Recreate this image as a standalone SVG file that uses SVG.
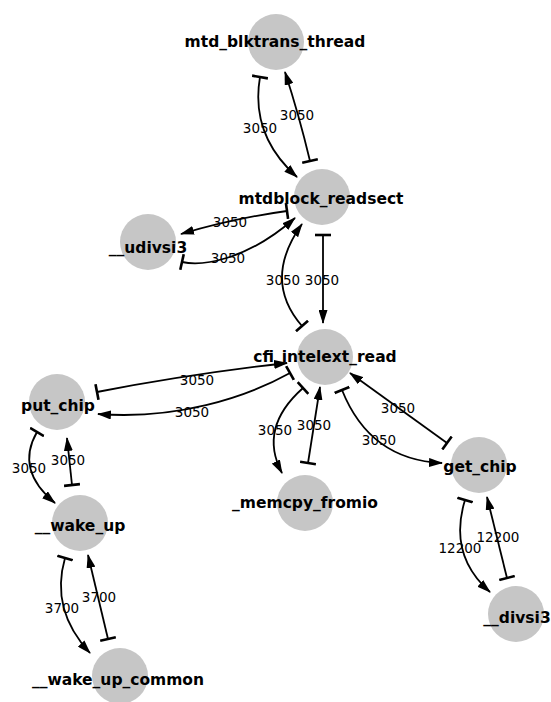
<svg xmlns="http://www.w3.org/2000/svg" width="551" height="702" viewBox="0 0 551 702">
<style>
.node circle{fill:#c6c6c6;}
.node text{font-family:"DejaVu Sans",Verdana,sans-serif;font-weight:bold;font-size:15.5px;fill:#000;text-anchor:middle;}
.edges path{fill:none;stroke:#000;stroke-width:1.8;marker-start:url(#tee);marker-end:url(#arrow);}
.elabel text{font-family:"DejaVu Sans",Verdana,sans-serif;font-size:13.5px;fill:#000;text-anchor:middle;}
</style>
<defs>
<marker id="arrow" viewBox="0 0 14 9" refX="13" refY="4.5" markerWidth="14" markerHeight="9" markerUnits="userSpaceOnUse" orient="auto"><path d="M0,0 L14,4.5 L0,9 z" fill="#000"/></marker>
<marker id="tee" viewBox="0 0 4 16" refX="2" refY="8" markerWidth="4" markerHeight="16" markerUnits="userSpaceOnUse" orient="auto"><line x1="2" y1="0" x2="2" y2="16" stroke="#000" stroke-width="2.6"/></marker>
</defs>
<rect width="551" height="702" fill="#fff"/>
<g id="nodes">
<g id="n_mtd_blktrans_thread" class="node"><circle cx="276" cy="42" r="28"/></g>
<g id="n_mtdblock_readsect" class="node"><circle cx="322" cy="197" r="28"/></g>
<g id="n_udivsi3" class="node"><circle cx="148" cy="242" r="28"/></g>
<g id="n_cfi_intelext_read" class="node"><circle cx="325" cy="357" r="28"/></g>
<g id="n_put_chip" class="node"><circle cx="57" cy="402" r="28"/></g>
<g id="n_memcpy_fromio" class="node"><circle cx="305" cy="503" r="28"/></g>
<g id="n_get_chip" class="node"><circle cx="479" cy="465" r="28"/></g>
<g id="n_wake_up" class="node"><circle cx="80" cy="523" r="28"/></g>
<g id="n_wake_up_common" class="node"><circle cx="120" cy="676" r="28"/></g>
<g id="n_divsi3" class="node"><circle cx="516" cy="614" r="28"/></g>
</g>
<g id="connectors" class="edges">
<path d="M260,77 Q250,135 297,177"/>
<path d="M310,161 Q299,115 285,72"/>
<path d="M287,211 Q235,218 181,234"/>
<path d="M182,262 C200,266 245,262 295,218"/>
<path d="M302,326 Q262,280 302,224"/>
<path d="M323,235 L323,323"/>
<path d="M97,392 Q190,374 287,363"/>
<path d="M290,373 C245,398 175,420 98,414"/>
<path d="M37,432 Q15,470 55,503"/>
<path d="M72,485 L67,438"/>
<path d="M65,558 Q50,610 90,653"/>
<path d="M108,639 L88,555"/>
<path d="M303,388 Q258,428 282,473"/>
<path d="M308,463 L320,387"/>
<path d="M447,443 L350,373"/>
<path d="M342,390 Q370,460 442,463"/>
<path d="M465,500 Q448,555 490,592"/>
<path d="M507,578 L487,497"/>
</g>
<g id="edge-labels" class="elabel">
<text x="260" y="133">3050</text>
<text x="297" y="120">3050</text>
<text x="230" y="227">3050</text>
<text x="228" y="263">3050</text>
<text x="283" y="285">3050</text>
<text x="322" y="285">3050</text>
<text x="197" y="385">3050</text>
<text x="192" y="417">3050</text>
<text x="29" y="473">3050</text>
<text x="68" y="465">3050</text>
<text x="62" y="613">3700</text>
<text x="99" y="602">3700</text>
<text x="275" y="435">3050</text>
<text x="314" y="430">3050</text>
<text x="398" y="413">3050</text>
<text x="379" y="445">3050</text>
<text x="460" y="553">12200</text>
<text x="498" y="542">12200</text>
</g>
<g id="node-labels" class="node">
<text x="275" y="47">mtd_blktrans_thread</text>
<text x="321" y="204">mtdblock_readsect</text>
<text x="148" y="253">__udivsi3</text>
<text x="325" y="362">cfi_intelext_read</text>
<text x="58" y="411">put_chip</text>
<text x="305" y="508">_memcpy_fromio</text>
<text x="480" y="472">get_chip</text>
<text x="80" y="531">__wake_up</text>
<text x="118" y="685">__wake_up_common</text>
<text x="517" y="623">__divsi3</text>
</g>
</svg>
